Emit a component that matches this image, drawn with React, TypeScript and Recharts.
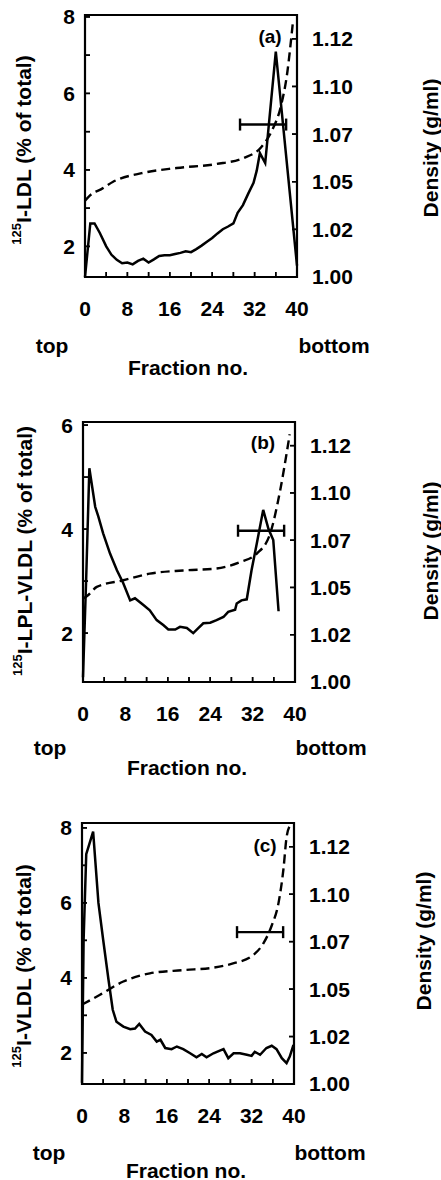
import { ComposedChart, Line, Scatter, ErrorBar, XAxis, YAxis, ReferenceArea } from "recharts";

const FONT = "'Liberation Sans', Arial, Helvetica, sans-serif";
const INK = "#000";

// fraction axis: ticks every 4, numbers every 8
const FRACTION_DOMAIN: [number, number] = [0, 40];
const FRACTION_TICKS = [0, 4, 8, 12, 16, 20, 24, 28, 32, 36, 40];
const FRACTION_LABELED = [0, 8, 16, 24, 32, 40];

// density axis (g/ml)
const DENSITY_DOMAIN: [number, number] = [1.0, 1.1375];
const DENSITY_TICKS = [1.0, 1.025, 1.05, 1.075, 1.1, 1.125];
const DENSITY_LABELS = ["1.00", "1.02", "1.05", "1.07", "1.10", "1.12"];

// horizontal range bar drawn at the same place in every panel
const BAR_FRACTION = [33.6];
const BAR_DENSITY = [1.08];
const BAR_HALF_RANGE = [4.35];

// (a) 125I-LDL
const ldlFraction = [0, 1, 1.8, 2.8, 4, 5, 6, 7, 8, 9, 10, 11, 12, 13, 14, 15, 16, 17, 18, 19, 20, 21, 22, 23, 24, 25, 26, 27, 28, 28.8, 29.8, 30.8, 31.8, 32.4, 33, 34, 36, 40];
const ldlPercent = [1.2, 2.6, 2.6, 2.35, 2.0, 1.78, 1.65, 1.56, 1.58, 1.53, 1.62, 1.68, 1.58, 1.66, 1.75, 1.77, 1.77, 1.8, 1.83, 1.87, 1.85, 1.93, 2.02, 2.12, 2.22, 2.34, 2.45, 2.52, 2.6, 2.88, 3.08, 3.38, 3.66, 3.98, 4.44, 4.18, 7.09, 1.5];
const ldlDensFraction = [0, 1, 3, 5.3, 10.7, 17.3, 24.8, 30, 33.2, 35.3, 37, 38.2, 38.9, 39.2];
const ldlDensity = [1.04, 1.043, 1.046, 1.05, 1.0545, 1.0572, 1.0593, 1.0625, 1.068, 1.077, 1.09, 1.108, 1.125, 1.133];

// (b) 125I-LPL-VLDL
const lplFraction = [0, 0.6, 1.2, 2.3, 2.9, 3.8, 5.1, 6.4, 7.6, 8.9, 9.8, 11.4, 12.6, 13.9, 15.2, 16.1, 17.4, 18.3, 19.6, 20.8, 21.8, 22.7, 24, 25.2, 26.5, 27.4, 28.7, 29, 29.9, 30.9, 31.8, 32.8, 34, 35, 35.9, 36.9];
const lplPercent = [1.15, 3.05, 5.17, 4.43, 4.24, 3.92, 3.53, 3.21, 2.96, 2.63, 2.67, 2.54, 2.44, 2.25, 2.15, 2.07, 2.07, 2.12, 2.1, 2.0, 2.1, 2.19, 2.2, 2.25, 2.31, 2.41, 2.45, 2.57, 2.63, 2.65, 3.21, 3.73, 4.37, 4.0, 3.79, 2.42];
const lplDensFraction = [0, 1, 2.6, 7.6, 12.6, 18.9, 25.2, 29.6, 32.8, 35.3, 37.2, 38.4, 39];
const lplDensity = [1.044, 1.046, 1.0503, 1.0538, 1.0573, 1.059, 1.06, 1.0634, 1.0679, 1.0784, 1.1013, 1.1206, 1.131];

// (c) 125I-VLDL
const vldlFraction = [0, 0.3, 0.8, 2.1, 3.1, 4, 5, 5.8, 6.5, 7.8, 9.1, 10, 10.8, 11.9, 13.1, 14.1, 14.8, 15.7, 16.9, 17.9, 19.1, 20.4, 21.6, 22.6, 23.5, 24.8, 26, 26.7, 27.6, 28.6, 29.8, 31.1, 32, 32.6, 33.6, 34.8, 35.8, 36.7, 37.7, 38.6, 39.2, 39.9];
const vldlPercent = [1.2, 5.0, 7.3, 7.9, 6.0, 5.01, 3.95, 3.15, 2.83, 2.7, 2.63, 2.65, 2.77, 2.57, 2.48, 2.3, 2.35, 2.13, 2.1, 2.17, 2.1, 1.99, 1.88, 1.97, 1.88, 1.99, 2.06, 2.1, 1.86, 1.99, 1.99, 1.95, 1.92, 2.03, 1.95, 2.13, 2.19, 2.1, 1.86, 1.73, 1.9, 2.21];
const vldlDensFraction = [0, 3.4, 7.8, 12.8, 19.1, 24.8, 28.5, 32.3, 34.2, 35.8, 37.1, 38, 38.6, 39.2];
const vldlDensity = [1.0418, 1.047, 1.054, 1.0583, 1.06, 1.0613, 1.0635, 1.0679, 1.074, 1.0835, 1.0957, 1.113, 1.13, 1.136];

type Box = { l: number; r: number; t: number; b: number };
type Pt = { x: number; y: number };

type PanelSpec = {
  tag: string;
  tracer: string;
  box: Box;
  pctDomain: [number, number];
  pctTicks: number[];
  fraction: number[];
  percent: number[];
  densFraction: number[];
  density: number[];
  leftTitle: Pt;
  rightTitle: Pt;
  tagPos: Pt;
  topWord: Pt;
  bottomWord: Pt;
  axisWord: Pt;
};

const PANELS: PanelSpec[] = [
  {
    tag: "(a)",
    tracer: "I-LDL (% of total)",
    box: { l: 85, r: 297, t: 15, b: 277 },
    pctDomain: [1.2, 8.05],
    pctTicks: [2, 3, 4, 5, 6, 7, 8],
    fraction: ldlFraction,
    percent: ldlPercent,
    densFraction: ldlDensFraction,
    density: ldlDensity,
    leftTitle: { x: 23, y: 150 },
    rightTitle: { x: 430, y: 148 },
    tagPos: { x: 270, y: 36 },
    topWord: { x: 52, y: 345 },
    bottomWord: { x: 334, y: 345 },
    axisWord: { x: 188, y: 367 },
  },
  {
    tag: "(b)",
    tracer: "I-LPL-VLDL (% of total)",
    box: { l: 83, r: 295, t: 422, b: 682 },
    pctDomain: [1.06, 6.06],
    pctTicks: [2, 3, 4, 5, 6],
    fraction: lplFraction,
    percent: lplPercent,
    densFraction: lplDensFraction,
    density: lplDensity,
    leftTitle: { x: 24, y: 551 },
    rightTitle: { x: 430, y: 551 },
    tagPos: { x: 263, y: 442 },
    topWord: { x: 50, y: 747 },
    bottomWord: { x: 331, y: 747 },
    axisWord: { x: 187, y: 767 },
  },
  {
    tag: "(c)",
    tracer: "I-VLDL (% of total)",
    box: { l: 82, r: 294, t: 823, b: 1084 },
    pctDomain: [1.17, 8.13],
    pctTicks: [2, 3, 4, 5, 6, 7, 8],
    fraction: vldlFraction,
    percent: vldlPercent,
    densFraction: vldlDensFraction,
    density: vldlDensity,
    leftTitle: { x: 23, y: 966 },
    rightTitle: { x: 423, y: 941 },
    tagPos: { x: 265, y: 845 },
    topWord: { x: 49, y: 1152 },
    bottomWord: { x: 330, y: 1152 },
    axisWord: { x: 186, y: 1170 },
  },
];

const W = 441;
const PAD_T = 10;
const PAD_B = 60;
const X_H = 50;
const LEFT_W = 40;
const RIGHT_W = 60;
const TICK = 5;

const tickFont = { fill: INK, fontSize: 21, fontWeight: 700, fontFamily: FONT };

function Panel({ p }: { p: PanelSpec }) {
  const { box } = p;
  const height = box.b - box.t + PAD_T + PAD_B;
  const pct = p.fraction.map((f, i) => ({ f, v: p.percent[i] }));
  const dens = p.densFraction.map((f, i) => ({ f, d: p.density[i] }));
  const bar = BAR_FRACTION.map((f, i) => ({ f, d: BAR_DENSITY[i], err: BAR_HALF_RANGE[i] }));
  const tm = { stroke: INK, strokeWidth: 1.5 };

  return (
    <div style={{ position: "absolute", left: 0, top: box.t - PAD_T }}>
      <ComposedChart
        width={W}
        height={height}
        margin={{ top: PAD_T, right: W - box.r - RIGHT_W, bottom: PAD_B - X_H, left: box.l - LEFT_W }}
      >
        <XAxis
          type="number"
          dataKey="f"
          domain={FRACTION_DOMAIN}
          ticks={FRACTION_TICKS}
          interval={0}
          tickFormatter={(v: number) => (FRACTION_LABELED.includes(v) ? String(v) : "")}
          height={X_H}
          tickSize={-TICK}
          tickMargin={29}
          stroke={INK}
          axisLine={false}
          tickLine={tm}
          tick={tickFont}
        />
        <YAxis
          yAxisId="left"
          type="number"
          domain={p.pctDomain}
          ticks={p.pctTicks}
          interval={0}
          tickFormatter={(v: number) => (v % 2 === 0 ? String(v) : "")}
          width={LEFT_W}
          tickSize={-TICK}
          tickMargin={15}
          stroke={INK}
          axisLine={false}
          tickLine={tm}
          tick={tickFont}
        />
        <YAxis
          yAxisId="right"
          orientation="right"
          type="number"
          domain={DENSITY_DOMAIN}
          ticks={DENSITY_TICKS}
          interval={0}
          tickFormatter={(v: number) => DENSITY_LABELS[DENSITY_TICKS.indexOf(v)] ?? ""}
          width={RIGHT_W}
          tickSize={-TICK}
          tickMargin={20}
          stroke={INK}
          axisLine={false}
          tickLine={tm}
          tick={tickFont}
        />
        <ReferenceArea
          yAxisId="left"
          x1={FRACTION_DOMAIN[0]}
          x2={FRACTION_DOMAIN[1]}
          y1={p.pctDomain[0]}
          y2={p.pctDomain[1]}
          fill="none"
          stroke={INK}
          strokeWidth={2.2}
          ifOverflow="visible"
        />
        <Line
          yAxisId="right"
          data={dens}
          dataKey="d"
          type="monotone"
          stroke={INK}
          strokeWidth={2.4}
          strokeDasharray="9 5"
          dot={false}
          isAnimationActive={false}
        />
        <Line
          yAxisId="left"
          data={pct}
          dataKey="v"
          stroke={INK}
          strokeWidth={2.5}
          dot={false}
          isAnimationActive={false}
        />
        <Scatter yAxisId="right" data={bar} dataKey="d" shape={() => <g />} isAnimationActive={false}>
          <ErrorBar dataKey="err" direction="x" width={6} stroke={INK} strokeWidth={2.4} isAnimationActive={false} />
        </Scatter>
      </ComposedChart>
      {/* plot frame as a bordered box over the same area the margins leave */}
      <div
        style={{
          position: "absolute",
          left: box.l - 1,
          top: PAD_T - 1,
          width: box.r - box.l + 2,
          height: box.b - box.t + 2,
          border: `2px solid ${INK}`,
          boxSizing: "border-box",
          pointerEvents: "none",
        }}
      />
    </div>
  );
}

// inward tick marks, placed on the same box the chart margins are built from
function Ticks({ p }: { p: PanelSpec }) {
  const { l, r, t, b } = p.box;
  const yOf = (v: number, [d0, d1]: [number, number]) => b - ((v - d0) / (d1 - d0)) * (b - t);
  const xOf = (v: number) => l + ((v - FRACTION_DOMAIN[0]) / (FRACTION_DOMAIN[1] - FRACTION_DOMAIN[0])) * (r - l);
  return (
    <g>
      {p.pctTicks.map((v) => {
        const y = yOf(v, p.pctDomain);
        return <line key={`l${v}`} x1={l} x2={l + TICK} y1={y} y2={y} stroke={INK} strokeWidth={1.5} />;
      })}
      {DENSITY_TICKS.map((v) => {
        const y = yOf(v, DENSITY_DOMAIN);
        return <line key={`r${v}`} x1={r - TICK} x2={r} y1={y} y2={y} stroke={INK} strokeWidth={1.5} />;
      })}
      {FRACTION_TICKS.map((v) => {
        const x = xOf(v);
        return <line key={`b${v}`} x1={x} x2={x} y1={b - TICK} y2={b} stroke={INK} strokeWidth={1.5} />;
      })}
    </g>
  );
}

function Words({ p }: { p: PanelSpec }) {
  const text = { fill: INK, fontFamily: FONT, fontWeight: 700, fontSize: 21 };
  return (
    <g>
      <text
        {...text}
        transform={`translate(${p.leftTitle.x},${p.leftTitle.y}) rotate(-90)`}
        textAnchor="middle"
        dominantBaseline="central"
      >
        <tspan fontSize={13} dy={-7}>125</tspan>
        <tspan dy={7}>{p.tracer}</tspan>
      </text>
      <text
        {...text}
        transform={`translate(${p.rightTitle.x},${p.rightTitle.y}) rotate(-90)`}
        textAnchor="middle"
        dominantBaseline="central"
      >
        Density (g/ml)
      </text>
      <text {...text} fontSize={19} x={p.tagPos.x} y={p.tagPos.y} textAnchor="middle" dominantBaseline="central">
        {p.tag}
      </text>
      <text {...text} x={p.topWord.x} y={p.topWord.y} textAnchor="middle" dominantBaseline="central">
        top
      </text>
      <text {...text} x={p.bottomWord.x} y={p.bottomWord.y} textAnchor="middle" dominantBaseline="central">
        bottom
      </text>
      <text {...text} x={p.axisWord.x} y={p.axisWord.y} textAnchor="middle" dominantBaseline="central">
        Fraction no.
      </text>
    </g>
  );
}

export default function App() {
  return (
    <div style={{ position: "absolute", left: 0, top: 0, width: W, height: 1180, background: "#fff" }}>
      {PANELS.map((p) => (
        <Panel key={p.tag} p={p} />
      ))}
      <svg width={W} height={1180} style={{ position: "absolute", left: 0, top: 0, pointerEvents: "none" }}>
        {PANELS.map((p) => (
          <g key={p.tag}>
            <Ticks p={p} />
            <Words p={p} />
          </g>
        ))}
      </svg>
    </div>
  );
}
